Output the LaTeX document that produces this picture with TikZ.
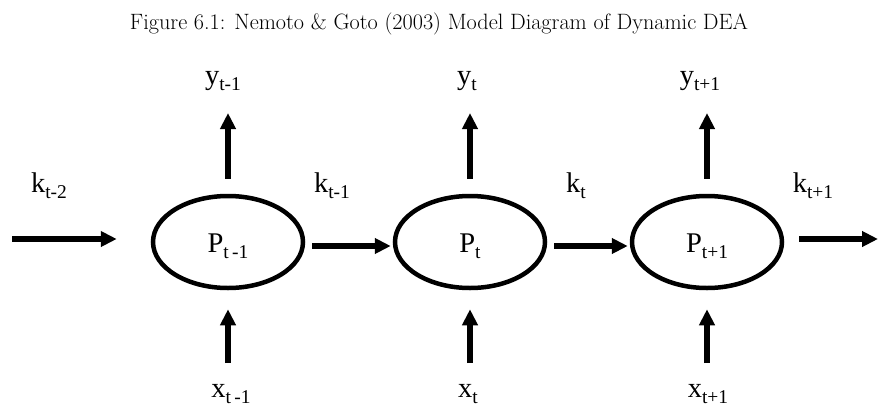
\documentclass[tikz,border=0pt]{standalone}
\usepackage{fontspec}
\newfontfamily\tnr{Liberation Serif}
\usetikzlibrary{arrows.meta,shapes.geometric}
\newcommand{\lsub}[1]{\raisebox{-6pt}{\fontsize{19.5}{19.5}\selectfont #1}}
\begin{document}
\begin{tikzpicture}[x=1pt,y=1pt,
  lab/.style={anchor=base,inner sep=0pt,font=\tnr\fontsize{28.5}{28.5}\selectfont},
  proc/.style={ellipse,draw,line width=4.5pt,minimum width=150pt,minimum height=92pt,
    inner sep=0pt,text height=20pt,text depth=0pt,font=\tnr\fontsize{28.5}{28.5}\selectfont},
  arr/.style={line width=5.5pt,-{Triangle[length=16pt,width=15pt]}}]
\useasboundingbox (0,0) rectangle (878,-407);
% labels
\node[lab] (y1) at (223,-84) {y\lsub{t-1}};
\node[lab] (y2) at (467,-84) {y\lsub{t}};
\node[lab] (y3) at (700,-84) {y\lsub{t+1}};
\node[lab] (k0) at (49,-192) {k\lsub{t-2}};
\node[lab] (k1) at (332,-192) {k\lsub{t-1}};
\node[lab] (k2) at (576,-192) {k\lsub{t}};
\node[lab] (k3) at (813,-192) {k\lsub{t+1}};
\node[lab] (x1) at (231,-397) {x\lsub{t\,-1}};
\node[lab] (x2) at (468,-397) {x\lsub{t}};
\node[lab] (x3) at (708,-397) {x\lsub{t+1}};
% processes
\node[proc] (p1) at (228,-242) {P\lsub{t\,-1}};
\node[proc] (p2) at (470,-242) {P\lsub{t}};
\node[proc] (p3) at (707,-242) {P\lsub{t+1}};
% free ends
\coordinate (in0) at (12,-239);
\coordinate (out3) at (878,-239);
\coordinate (yt1) at (228,-113);
\coordinate (yt2) at (470,-113);
\coordinate (yt3) at (707,-113);
\coordinate (xb1) at (228,-363);
\coordinate (xb2) at (470,-363);
\coordinate (xb3) at (707,-363);
% connectors
\draw[arr,shorten >=34pt] (in0) -- (in0 -| p1.west);
\draw[arr,shorten <=7pt,shorten >=2pt] ([yshift=-4pt]p1.east) -- ([yshift=-4pt]p2.west);
\draw[arr,shorten <=7pt,shorten >=2pt] ([yshift=-4pt]p2.east) -- ([yshift=-4pt]p3.west);
\draw[arr,shorten <=15pt] (p3.east |- out3) -- (out3);
\draw[arr,shorten <=15pt] (p1.north) -- (yt1);
\draw[arr,shorten <=15pt] (p2.north) -- (yt2);
\draw[arr,shorten <=15pt] (p3.north) -- (yt3);
\draw[arr,shorten >=19pt] (xb1) -- (p1.south);
\draw[arr,shorten >=19pt] (xb2) -- (p2.south);
\draw[arr,shorten >=19pt] (xb3) -- (p3.south);
% title
\node[anchor=base,inner sep=0pt,font=\fontsize{22.2}{26}\selectfont] (title) at (439,-29)
  {Figure 6.1: Nemoto \& Goto (2003) Model Diagram of Dynamic DEA};
\end{tikzpicture}
\end{document}
